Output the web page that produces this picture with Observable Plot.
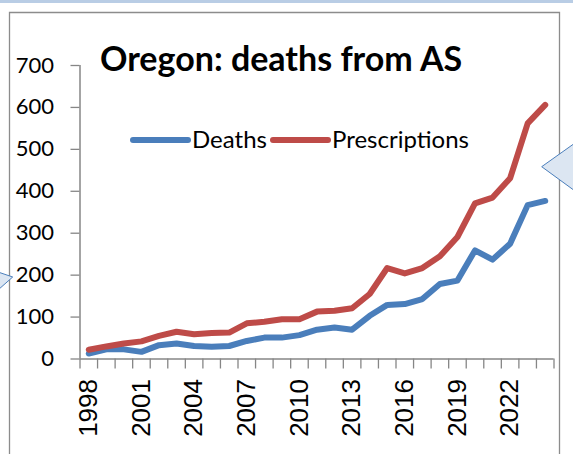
<!DOCTYPE html>
<html><head><meta charset="utf-8">
<script src="https://cdn.jsdelivr.net/npm/d3@7"></script>
<script src="https://cdn.jsdelivr.net/npm/@observablehq/plot@0.6"></script>
<style>html,body{margin:0;padding:0;background:#fff;overflow:hidden}#chart{position:relative;width:573px;height:454px}</style>
</head><body><div id="chart"></div>
<script>
const years = [1998,1999,2000,2001,2002,2003,2004,2005,2006,2007,2008,2009,2010,2011,2012,2013,2014,2015,2016,2017,2018,2019,2020,2021,2022,2023,2024];
const deaths = [13,23,23,17,33,37,31,29,31,43,51,51,57,70,75,70,103,129,131,143,179,187,259,237,275,367,377];
const prescriptions = [22,30,37,42,55,65,59,62,63,85,89,95,95,113,115,121,155,217,204,217,245,291,371,385,431,562,606];
const yTicks = [0,100,200,300,400,500,600,700];
const xLabelYears = [1998,2001,2004,2007,2010,2013,2016,2019,2022];
const seriesNames = ["Deaths","Prescriptions"];
const seriesColors = ["#4a7ebb","#be4b48"];
const titleText = "Oregon: deaths from AS";

const rows = years.flatMap((y,i)=>[
  {year:y, value:deaths[i], series:seriesNames[0]},
  {year:y, value:prescriptions[i], series:seriesNames[1]}
]);
const boundaries = years.map(y=>y-0.5).concat([years[years.length-1]+0.5]);
const gray = "#868686";

const plot = Plot.plot({
  width:573, height:454,
  marginLeft:79.5, marginRight:19.5, marginTop:65, marginBottom:95.5,
  style:{background:"transparent", overflow:"visible"},
  x:{domain:[boundaries[0], boundaries[boundaries.length-1]], axis:null},
  y:{domain:[0,700], axis:null},
  color:{domain:seriesNames, range:seriesColors},
  marks:[
    Plot.axisY({ticks:yTicks, label:null, tickSize:9, tickPadding:17, stroke:gray, strokeWidth:1.3, fill:"#000", fontSize:22, fontFamily:"Lato"}),
    Plot.axisX({ticks:boundaries, label:null, tickSize:10, stroke:gray, strokeWidth:1.3, tickFormat:()=>""}),
    Plot.axisX({ticks:xLabelYears, label:null, tickSize:0, tickPadding:20, tickRotate:-90, fill:"#000", fontSize:26, fontFamily:"Liberation Sans", tickFormat:d=>String(d)}),
    Plot.ruleX([boundaries[0]], {stroke:gray, strokeWidth:1.5}),
    Plot.ruleY([0], {stroke:gray, strokeWidth:1.5}),
    Plot.line(rows, {x:"year", y:"value", stroke:"series", z:"series", strokeWidth:6, strokeLinejoin:"round", strokeLinecap:"round"})
  ]
});
document.getElementById("chart").appendChild(plot);

const svg = d3.select(plot);
// background decorations (behind)
const bg = svg.insert("g", ":first-child");
bg.append("rect").attr("x",0).attr("y",0).attr("width",573).attr("height",3).attr("fill","#b9cde5");
bg.append("path").attr("d","M9.5,460 L9.5,12.5 L559.5,12.5 L559.5,460").attr("fill","none").attr("stroke","#8c8c8c").attr("stroke-width",1.3);

// title
svg.append("text").attr("x",100).attr("y",71).attr("text-anchor","start").attr("font-family","Lato").attr("font-weight","bold").attr("font-size",34).attr("fill","#000").text(titleText);

// legend
const leg = svg.append("g");
const legendItems = [{x1:133,x2:188,tx:192},{x1:273,x2:328,tx:332}];
legendItems.forEach((it,i)=>{
  leg.append("line").attr("x1",it.x1).attr("x2",it.x2).attr("y1",140).attr("y2",140).attr("stroke",seriesColors[i]).attr("stroke-width",6).attr("stroke-linecap","round");
  leg.append("text").attr("x",it.tx).attr("y",148).attr("text-anchor","start").attr("font-family","Lato").attr("font-size",24).attr("fill","#000").text(seriesNames[i]);
});

// callout pointers
svg.append("path").attr("d","M-2,272 L12.7,277 L-2,290 Z").attr("fill","#dce6f2").attr("stroke","#4a7ebb").attr("stroke-width",1);
svg.append("path").attr("d","M575,143 L541.7,166.7 L575,191 Z").attr("fill","#dce6f2").attr("stroke","#4a7ebb").attr("stroke-width",1);
</script>
</body></html>
